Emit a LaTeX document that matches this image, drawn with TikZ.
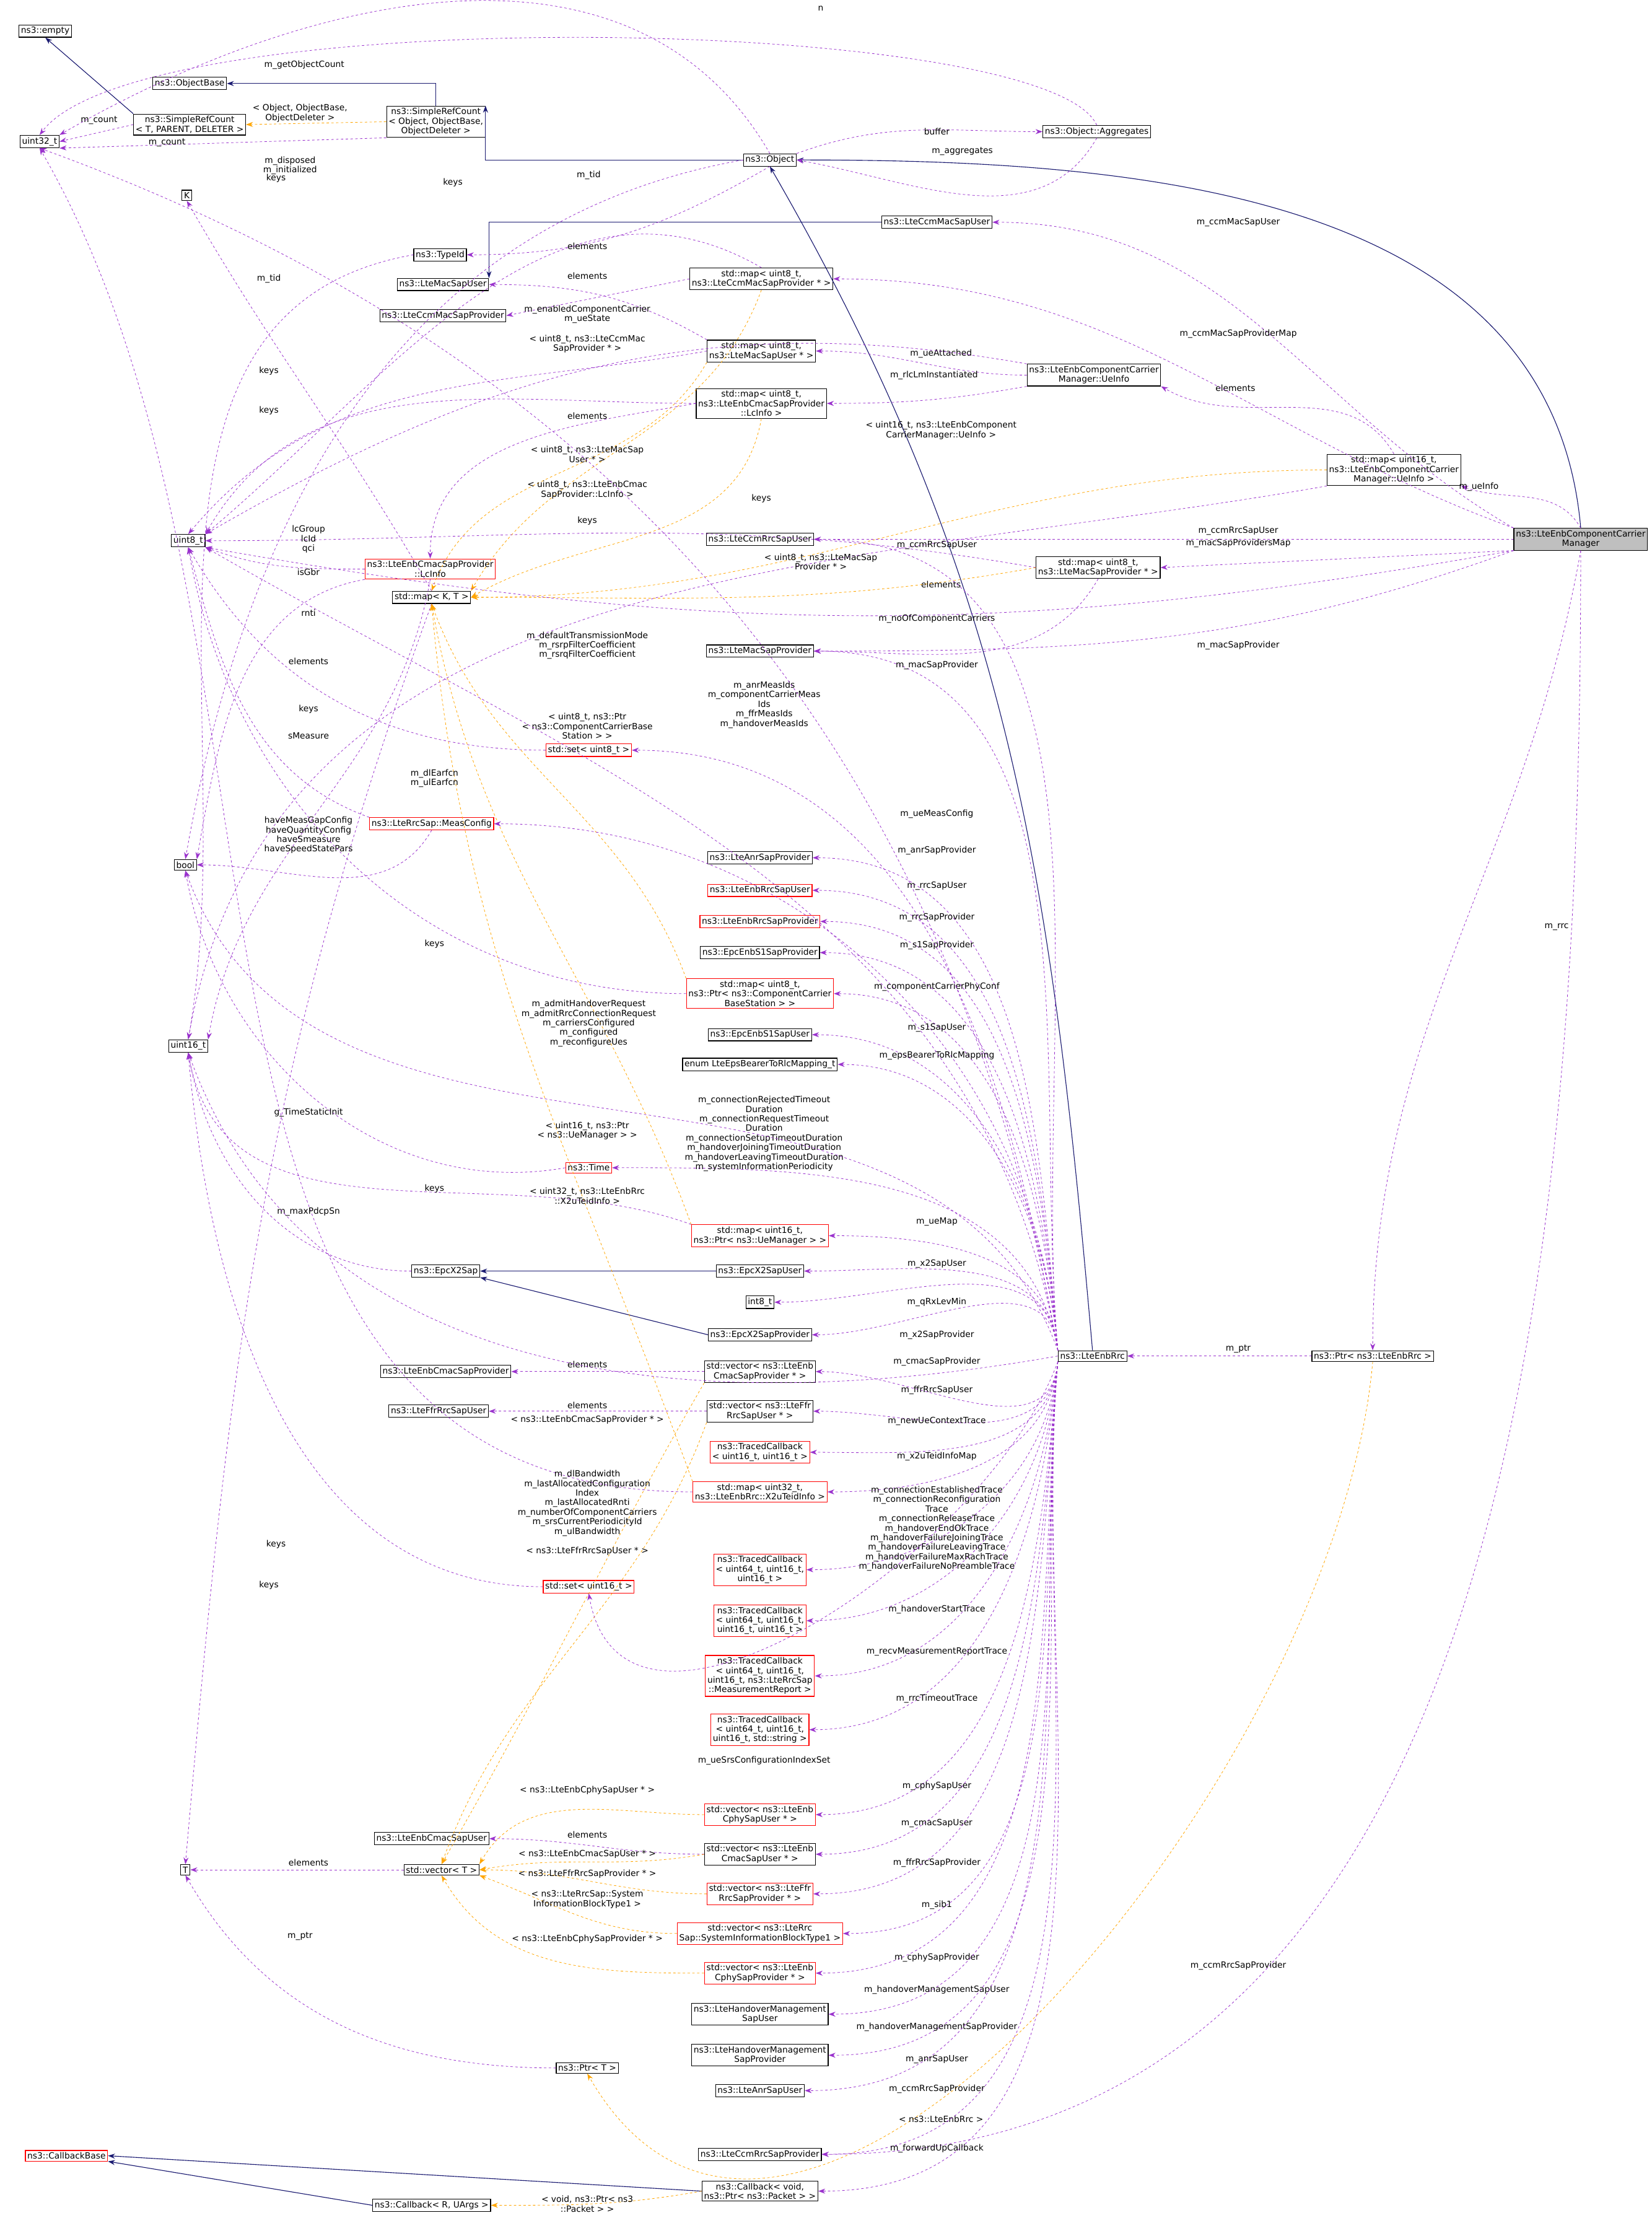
\documentclass[tikz,border=0pt]{standalone}
\usepackage{fontspec}
\setmainfont{DejaVu Sans}
\usetikzlibrary{arrows.meta}
\definecolor{mp}{HTML}{9A32CD}
\definecolor{og}{HTML}{FFA500}
\definecolor{nb}{HTML}{191970}
\begin{document}
\begin{tikzpicture}[x=0.025cm,y=-0.025cm,
 font=\fontsize{4.3}{4.8}\selectfont,
 bx/.style={draw=black,line width=0.35pt,fill=white,inner sep=1pt,align=center},
 rb/.style={draw=red,line width=0.35pt,fill=white,inner sep=1pt,align=center},
 lb/.style={align=center,inner sep=0.2pt},
 mem/.style={draw=mp,dashed,dash pattern=on 1.2pt off 1.2pt,line width=0.25pt,-{Stealth[length=3.5pt,width=2.5pt]}},
 tpl/.style={draw=og,dash pattern=on 1.2pt off 1.2pt,line width=0.25pt,-{Stealth[length=3.5pt,width=2.5pt]}},
 inh/.style={draw=nb,line width=0.35pt,-{Stealth[length=3.5pt,width=2.5pt]}}]
\useasboundingbox (0,0) rectangle (1167,1567);
% nodes
\node[bx] (empty) at (32,22) {ns3::empty};
\node[bx] (u32) at (28,100) {uint32\_t};
\node[bx] (obase) at (134,59) {ns3::ObjectBase};
\node[bx] (srcT) at (134,88) {ns3::SimpleRefCount\\< T, PARENT, DELETER >};
\node[bx] (srcO) at (308,86) {ns3::SimpleRefCount\\< Object, ObjectBase,\\ObjectDeleter >};
\node[bx] (obj) at (544,113) {ns3::Object};
\node[bx] (agg) at (775,93) {ns3::Object::Aggregates};
\node[bx] (K) at (132,138) {K};
\node[bx] (tid) at (311,180) {ns3::TypeId};
\node[bx] (macu) at (313,201) {ns3::LteMacSapUser};
\node[bx] (ccmmp) at (313,223) {ns3::LteCcmMacSapProvider};
\node[bx] (mccmmp) at (538,197) {std::map< uint8\_t,\\ns3::LteCcmMacSapProvider * >};
\node[bx] (ccmmu) at (662,157) {ns3::LteCcmMacSapUser};
\node[bx] (mmacu) at (538,248) {std::map< uint8\_t,\\ns3::LteMacSapUser * >};
\node[bx] (mlc) at (538,285) {std::map< uint8\_t,\\ns3::LteEnbCmacSapProvider\\::LcInfo >};
\node[bx] (ueinfo) at (773,265) {ns3::LteEnbComponentCarrier\\Manager::UeInfo};
\node[bx] (mueinfo) at (985,332) {std::map< uint16\_t,\\ns3::LteEnbComponentCarrier\\Manager::UeInfo >};
\node[bx] (u8) at (133,382) {uint8\_t};
\node[rb] (lcinfo) at (304,402) {ns3::LteEnbCmacSapProvider\\::LcInfo};
\node[bx] (mapKT) at (305,422) {std::map< K, T >};
\node[bx] (ccmru) at (537,381) {ns3::LteCcmRrcSapUser};
\node[bx] (mmacp) at (776,401) {std::map< uint8\_t,\\ns3::LteMacSapProvider * >};
\node[bx,fill=black!25] (ccm) at (1117,381) {ns3::LteEnbComponentCarrier\\Manager};
\node[bx] (macp) at (537,460) {ns3::LteMacSapProvider};
\node[rb] (set8) at (416,530) {std::set< uint8\_t >};
\node[rb] (meas) at (305,582) {ns3::LteRrcSap::MeasConfig};
\node[bx] (bool) at (131,611) {bool};
\node[bx] (anrp) at (537,606) {ns3::LteAnrSapProvider};
\node[rb] (rrcu) at (537,629) {ns3::LteEnbRrcSapUser};
\node[rb] (rrcp) at (537,651) {ns3::LteEnbRrcSapProvider};
\node[bx] (s1p) at (537,673) {ns3::EpcEnbS1SapProvider};
\node[rb] (mccbs) at (537,702) {std::map< uint8\_t,\\ns3::Ptr< ns3::ComponentCarrier\\BaseStation > >};
\node[bx] (s1u) at (537,731) {ns3::EpcEnbS1SapUser};
\node[bx] (enum) at (537,752) {enum LteEpsBearerToRlcMapping\_t};
\node[bx] (u16) at (133,739) {uint16\_t};
\node[rb] (time) at (416,825) {ns3::Time};
\node[rb] (mue) at (537,873) {std::map< uint16\_t,\\ns3::Ptr< ns3::UeManager > >};
\node[bx] (x2) at (315,898) {ns3::EpcX2Sap};
\node[bx] (x2u) at (537,898) {ns3::EpcX2SapUser};
\node[bx] (i8) at (537,920) {int8\_t};
\node[bx] (x2p) at (537,943) {ns3::EpcX2SapProvider};
\node[bx] (rrc) at (772,958) {ns3::LteEnbRrc};
\node[bx] (prrc) at (970,958) {ns3::Ptr< ns3::LteEnbRrc >};
\node[bx] (cmacp) at (315,969) {ns3::LteEnbCmacSapProvider};
\node[bx] (vcmacp) at (537,969) {std::vector< ns3::LteEnb\\CmacSapProvider * >};
\node[bx] (ffru) at (310,997) {ns3::LteFfrRrcSapUser};
\node[bx] (vffru) at (537,997) {std::vector< ns3::LteFfr\\RrcSapUser * >};
\node[rb] (tc1) at (537,1026) {ns3::TracedCallback\\< uint16\_t, uint16\_t >};
\node[rb] (mx2) at (537,1054) {std::map< uint32\_t,\\ns3::LteEnbRrc::X2uTeidInfo >};
\node[rb] (set16) at (416,1121) {std::set< uint16\_t >};
\node[rb] (tc2) at (537,1109) {ns3::TracedCallback\\< uint64\_t, uint16\_t,\\uint16\_t >};
\node[rb] (tc3) at (537,1145) {ns3::TracedCallback\\< uint64\_t, uint16\_t,\\uint16\_t, uint16\_t >};
\node[rb] (tc4) at (537,1184) {ns3::TracedCallback\\< uint64\_t, uint16\_t,\\uint16\_t, ns3::LteRrcSap\\::MeasurementReport >};
\node[rb] (tc5) at (537,1222) {ns3::TracedCallback\\< uint64\_t, uint16\_t,\\uint16\_t, std::string >};
\node[rb] (vcphyu) at (537,1282) {std::vector< ns3::LteEnb\\CphySapUser * >};
\node[bx] (cmacu) at (305,1299) {ns3::LteEnbCmacSapUser};
\node[bx] (vcmacu) at (537,1310) {std::vector< ns3::LteEnb\\CmacSapUser * >};
\node[bx] (T) at (131,1321) {T};
\node[bx] (vecT) at (312,1321) {std::vector< T >};
\node[rb] (vffrp) at (537,1338) {std::vector< ns3::LteFfr\\RrcSapProvider * >};
\node[rb] (vsib) at (537,1366) {std::vector< ns3::LteRrc\\Sap::SystemInformationBlockType1 >};
\node[rb] (vcphyp) at (537,1394) {std::vector< ns3::LteEnb\\CphySapProvider * >};
\node[bx] (hou) at (537,1423) {ns3::LteHandoverManagement\\SapUser};
\node[bx] (hop) at (537,1452) {ns3::LteHandoverManagement\\SapProvider};
\node[bx] (ptrT) at (415,1461) {ns3::Ptr< T >};
\node[bx] (anru) at (537,1477) {ns3::LteAnrSapUser};
\node[bx] (ccmrp) at (537,1522) {ns3::LteCcmRrcSapProvider};
\node[rb] (cbb) at (47,1523) {ns3::CallbackBase};
\node[bx] (cbR) at (305,1558) {ns3::Callback< R, UArgs >};
\node[bx] (cbv) at (537,1548) {ns3::Callback< void,\\ns3::Ptr< ns3::Packet > >};

% inheritance
\draw[inh] (srcT.north west) -- (empty.south);
\draw[inh] (srcO.north) |- (obase.east);
\draw[inh] (obj.west) -| (srcO.north east);
\draw[inh] (ccmmu.west) -| (macu.north east);
\draw[inh] (ccm.north) to[out=95,in=0] (obj.east);
\draw[inh] (rrc.north) to[out=95,in=-60] (obj.south);
\draw[inh] (x2u) -- (x2);
\draw[inh] (x2p.west) -- (x2.south east);
\draw[inh] (cbv.west) -- (cbb.east);
\draw[inh] (cbR.west) -- (cbb.south east);

% top area
\draw[tpl] (srcO.west) -- (srcT.east);
\node[lb] at (212,80) {< Object, ObjectBase,\\ObjectDeleter >};
\draw[mem] (srcT.west) -- (u32.east);
\node[lb] at (70,85) {m\_count};
\draw[mem] (srcO.south west) -- (u32.south east);
\node[lb] at (118,101) {m\_count};
\draw[mem] (obj.north) to[out=120,in=30] (u32.north east);
\node[lb] at (215,46) {m\_getObjectCount};
\draw[mem] (agg.north) .. controls (740,10) and (100,0) .. (u32.north);
\node[lb] at (580,6) {n};
\draw[mem] (agg.south) to[out=-120,in=-10] (obj.east);
\node[lb] at (680,107) {m\_aggregates};
\draw[mem] (obj.north east) to[out=20,in=180] (agg.west);
\node[lb] at (662,93) {buffer};
\draw[mem] (obj.south) to[out=-150,in=0] (tid.east);
\node[lb] at (416,124) {m\_tid};
\draw[mem] (obj.west) to[out=190,in=80] (bool.north);
\node[lb] at (205,117) {m\_disposed\\m\_initialized};
\draw[mem] (tid.west) to[out=190,in=80] (u16.north);
\node[lb] at (190,197) {m\_tid};
\draw[mem] (mapKT.north) to[out=120,in=-60] (K.south);
\node[lb] at (195,126) {keys};
\draw[mem] (mapKT.south) to[out=-110,in=85] (T.north);
\node[lb] at (218,467) {elements};

% maps
\draw[mem] (mccmmp.north) to[out=150,in=40] (u8.north east);
\node[lb] at (320,129) {keys};
\draw[mem] (mccmmp.west) -- (ccmmp.east);
\node[lb] at (415,195) {elements};
\draw[tpl] (mccmmp.south) to[out=-110,in=60] (mapKT.north east);
\node[lb] at (415,243) {< uint8\_t, ns3::LteCcmMac\\SapProvider * >};
\draw[mem] (mmacu.north west) to[out=150,in=0] (macu.east);
\node[lb] at (415,174) {elements};
\draw[mem] (mmacu.west) to[out=190,in=50] (u8.north);
\node[lb] at (190,262) {keys};
\draw[tpl] (mmacu.south west) to[out=-120,in=70] (mapKT.north);
\node[lb] at (415,321) {< uint8\_t, ns3::LteMacSap\\User * >};
\draw[mem] (mlc.west) to[out=190,in=90] (lcinfo.north);
\node[lb] at (415,294) {elements};
\draw[mem] (mlc.west) to[out=180,in=60] (u8.north east);
\node[lb] at (190,290) {keys};
\draw[tpl] (mlc.south) to[out=-100,in=30] (mapKT.east);
\node[lb] at (415,346) {< uint8\_t, ns3::LteEnbCmac\\SapProvider::LcInfo >};
\draw[mem] (ueinfo.west) to[out=180,in=0] (mmacu.east);
\node[lb] at (665,250) {m\_ueAttached};
\draw[mem] (ueinfo.south west) to[out=190,in=0] (mlc.east);
\node[lb] at (660,265) {m\_rlcLmInstantiated};
\draw[mem] (ueinfo.north west) to[out=170,in=30] (u8.north east);
\node[lb] at (415,222) {m\_enabledComponentCarrier\\m\_ueState};
\draw[mem] (mueinfo.north) to[out=120,in=-30] (ueinfo.south east);
\node[lb] at (873,274) {elements};
\draw[mem] (mueinfo.south west) to[out=190,in=80] (u16.north);
\node[lb] at (538,352) {keys};
\draw[tpl] (mueinfo.west) to[out=180,in=0] (mapKT.east);
\node[lb] at (665,304) {< uint16\_t, ns3::LteEnbComponent\\CarrierManager::UeInfo >};
\draw[mem] (mmacp.south) to[out=-120,in=0] (macp.east);
\node[lb] at (665,413) {elements};
\draw[mem] (mmacp.west) to[out=170,in=0] (u8.east);
\node[lb] at (415,368) {keys};
\draw[tpl] (mmacp.west) to[out=190,in=0] (mapKT.east);
\node[lb] at (580,397) {< uint8\_t, ns3::LteMacSap\\Provider * >};
\draw[mem] (lcinfo.west) to[out=180,in=-20] (u8.south east);
\node[lb] at (218,381) {lcGroup\\lcId\\qci};
\draw[mem] (lcinfo.south west) to[out=190,in=80] (bool.north east);
\node[lb] at (218,404) {isGbr};
\draw[mem] (lcinfo.south) to[out=-100,in=80] (u16.north east);
\node[lb] at (218,433) {rnti};
\draw[mem] (set8.west) to[out=180,in=-60] (u8.south);
\node[lb] at (218,501) {keys};
\draw[mem] (meas.north west) to[out=160,in=-75] (u8.south);
\node[lb] at (218,520) {sMeasure};
\draw[mem] (meas.south) to[out=-120,in=0] (bool.east);
\node[lb] at (218,590) {haveMeasGapConfig\\haveQuantityConfig\\haveSmeasure\\haveSpeedStatePars};
\draw[mem] (mccbs.west) to[out=180,in=-80] (u8.south);
\node[lb] at (307,667) {keys};
\draw[tpl] (mccbs.north west) to[out=110,in=-70] (mapKT.south);
\node[lb] at (415,513) {< uint8\_t, ns3::Ptr\\< ns3::ComponentCarrierBase\\Station > >};
\draw[mem] (time.west) to[out=190,in=-80] (bool.south);
\node[lb] at (218,786) {g\_TimeStaticInit};
\draw[tpl] (mue.north west) to[out=110,in=-80] (mapKT.south);
\node[lb] at (415,799) {< uint16\_t, ns3::Ptr\\< ns3::UeManager > >};
\draw[mem] (mue.north west) to[out=160,in=-80] (u16.south);
\node[lb] at (307,840) {keys};
\draw[tpl] (mx2.north west) to[out=110,in=-85] (mapKT.south);
\node[lb] at (415,845) {< uint32\_t, ns3::LteEnbRrc\\::X2uTeidInfo >};
\draw[mem] (mx2.west) to[out=180,in=-60] (u32.south);
\node[lb] at (195,1091) {keys};
\draw[mem] (x2.west) to[out=180,in=-80] (u16.south);
\node[lb] at (218,856) {m\_maxPdcpSn};
\draw[mem] (set16.west) to[out=180,in=-85] (u16.south);
\node[lb] at (190,1120) {keys};
\draw[mem] (vcmacp.west) -- (cmacp.east);
\node[lb] at (415,964) {elements};
\draw[tpl] (vcmacp.south west) to[out=-120,in=60] (vecT.north);
\node[lb] at (415,1003) {< ns3::LteEnbCmacSapProvider * >};
\draw[mem] (vffru.west) -- (ffru.east);
\node[lb] at (415,993) {elements};
\draw[tpl] (vffru.south west) to[out=-110,in=70] (vecT.north);
\node[lb] at (415,1096) {< ns3::LteFfrRrcSapUser * >};
\draw[tpl] (vcphyu.west) to[out=180,in=60] (vecT.north east);
\node[lb] at (415,1265) {< ns3::LteEnbCphySapUser * >};
\draw[mem] (vcmacu.west) to[out=180,in=0] (cmacu.east);
\node[lb] at (415,1296) {elements};
\draw[tpl] (vcmacu.west) to[out=190,in=10] (vecT.east);
\node[lb] at (415,1310) {< ns3::LteEnbCmacSapUser * >};
\draw[tpl] (vffrp.west) to[out=180,in=0] (vecT.east);
\node[lb] at (415,1324) {< ns3::LteFfrRrcSapProvider * >};
\draw[tpl] (vsib.west) to[out=180,in=-20] (vecT.south east);
\node[lb] at (415,1342) {< ns3::LteRrcSap::System\\InformationBlockType1 >};
\draw[tpl] (vcphyp.west) to[out=180,in=-60] (vecT.south);
\node[lb] at (415,1370) {< ns3::LteEnbCphySapProvider * >};
\draw[mem] (vecT.west) -- (T.east);
\node[lb] at (218,1316) {elements};
\draw[mem] (ptrT.west) to[out=180,in=-60] (T.south);
\node[lb] at (212,1368) {m\_ptr};
\draw[tpl] (cbv.west) to[out=190,in=0] (cbR.east);
\node[lb] at (415,1557) {< void, ns3::Ptr< ns3\\::Packet > >};
\draw[mem] (prrc.west) -- (rrc.east);
\node[lb] at (875,953) {m\_ptr};
\draw[tpl] (prrc.south) to[out=-95,in=-60] (ptrT.south);
\node[lb] at (665,1497) {< ns3::LteEnbRrc >};

% component carrier manager edges
\draw[mem] (ccm.north west) to[out=150,in=0] (ccmmu.east);
\node[lb] at (875,157) {m\_ccmMacSapUser};
\draw[mem] (ccm.north west) to[out=160,in=0] (mccmmp.east);
\node[lb] at (875,236) {m\_ccmMacSapProviderMap};
\draw[mem] (ccm.north) to[out=120,in=-20] (mueinfo.south east);
\node[lb] at (1045,344) {m\_ueInfo};
\draw[mem] (ccm.west) -- (ccmru.east);
\node[lb] at (875,375) {m\_ccmRrcSapUser};
\draw[mem] (ccm.south west) -- (mmacp.east);
\node[lb] at (875,384) {m\_macSapProvidersMap};
\draw[mem] (ccm.south west) to[out=190,in=-10] (u8.south east);
\node[lb] at (662,437) {m\_noOfComponentCarriers};
\draw[mem] (ccm.south west) to[out=200,in=0] (macp.east);
\node[lb] at (875,456) {m\_macSapProvider};
\draw[mem] (ccm.south) to[out=-100,in=90] (prrc.north);
\node[lb] at (1100,655) {m\_rrc};
\draw[mem] (ccm.south) to[out=-90,in=0] (ccmrp.east);
\node[lb] at (875,1389) {m\_ccmRrcSapProvider};

% LteEnbRrc edges (upward)
\foreach \t/\l/\ly in {ccmru/m\_ccmRrcSapUser/385, macp/m\_macSapProvider/470,
  meas/m\_ueMeasConfig/575, anrp/m\_anrSapProvider/601, rrcu/m\_rrcSapUser/626,
  rrcp/m\_rrcSapProvider/648, s1p/m\_s1SapProvider/668, mccbs/m\_componentCarrierPhyConf/697,
  s1u/m\_s1SapUser/726, enum/m\_epsBearerToRlcMapping/746, mue/m\_ueMap/863,
  x2u/m\_x2SapUser/893, i8/m\_qRxLevMin/920, x2p/m\_x2SapProvider/943}{
  \draw[mem] (rrc.north west) to[out=95,in=0] (\t.east);
  \node[lb] at (662,\ly) {\l};}
\draw[mem] (rrc.north west) to[out=100,in=0] (set8.east);
\node[lb] at (540,498) {m\_anrMeasIds\\m\_componentCarrierMeas\\Ids\\m\_ffrMeasIds\\m\_handoverMeasIds};
\draw[mem] (rrc.north west) to[out=100,in=0] (time.east);
\node[lb] at (540,801) {m\_connectionRejectedTimeout\\Duration\\m\_connectionRequestTimeout\\Duration\\m\_connectionSetupTimeoutDuration\\m\_handoverJoiningTimeoutDuration\\m\_handoverLeavingTimeoutDuration\\m\_systemInformationPeriodicity};
\draw[mem] (rrc.north west) to[out=100,in=-30] (u8.south east);
\node[lb] at (415,456) {m\_defaultTransmissionMode\\m\_rsrpFilterCoefficient\\m\_rsrqFilterCoefficient};
\draw[mem] (rrc.north west) to[out=100,in=-20] (u32.south);
\node[lb] at (307,550) {m\_dlEarfcn\\m\_ulEarfcn};
\draw[mem] (rrc.north west) to[out=110,in=-70] (bool.south);
\node[lb] at (416,723) {m\_admitHandoverRequest\\m\_admitRrcConnectionRequest\\m\_carriersConfigured\\m\_configured\\m\_reconfigureUes};
% downward
\foreach \t/\l/\ly in {vcmacp/m\_cmacSapProvider/962, vffru/m\_ffrRrcSapUser/982,
  tc1/m\_newUeContextTrace/1004, mx2/m\_x2uTeidInfoMap/1029, tc3/m\_handoverStartTrace/1137,
  tc4/m\_recvMeasurementReportTrace/1167, tc5/m\_rrcTimeoutTrace/1200,
  vcphyu/m\_cphySapUser/1262, vcmacu/m\_cmacSapUser/1288, vffrp/m\_ffrRrcSapProvider/1316,
  vsib/m\_sib1/1346, vcphyp/m\_cphySapProvider/1383, hou/m\_handoverManagementSapUser/1406,
  hop/m\_handoverManagementSapProvider/1432, anru/m\_anrSapUser/1455,
  ccmrp/m\_ccmRrcSapProvider/1476, cbv/m\_forwardUpCallback/1518}{
  \draw[mem] (rrc.south west) to[out=-95,in=0] (\t.east);
  \node[lb] at (662,\ly) {\l};}
\draw[mem] (rrc.south west) to[out=-95,in=0] (tc2.east);
\node[lb] at (662,1080) {m\_connectionEstablishedTrace\\m\_connectionReconfiguration\\Trace\\m\_connectionReleaseTrace\\m\_handoverEndOkTrace\\m\_handoverFailureJoiningTrace\\m\_handoverFailureLeavingTrace\\m\_handoverFailureMaxRachTrace\\m\_handoverFailureNoPreambleTrace};
\draw[mem] (rrc.south west) to[out=-110,in=-80] (set16.south);
\node[lb] at (540,1244) {m\_ueSrsConfigurationIndexSet};
\draw[mem] (rrc.west) to[out=190,in=-70] (u16.south);
\node[lb] at (415,1062) {m\_dlBandwidth\\m\_lastAllocatedConfiguration\\Index\\m\_lastAllocatedRnti\\m\_numberOfComponentCarriers\\m\_srsCurrentPeriodicityId\\m\_ulBandwidth};
\end{tikzpicture}
\end{document}
